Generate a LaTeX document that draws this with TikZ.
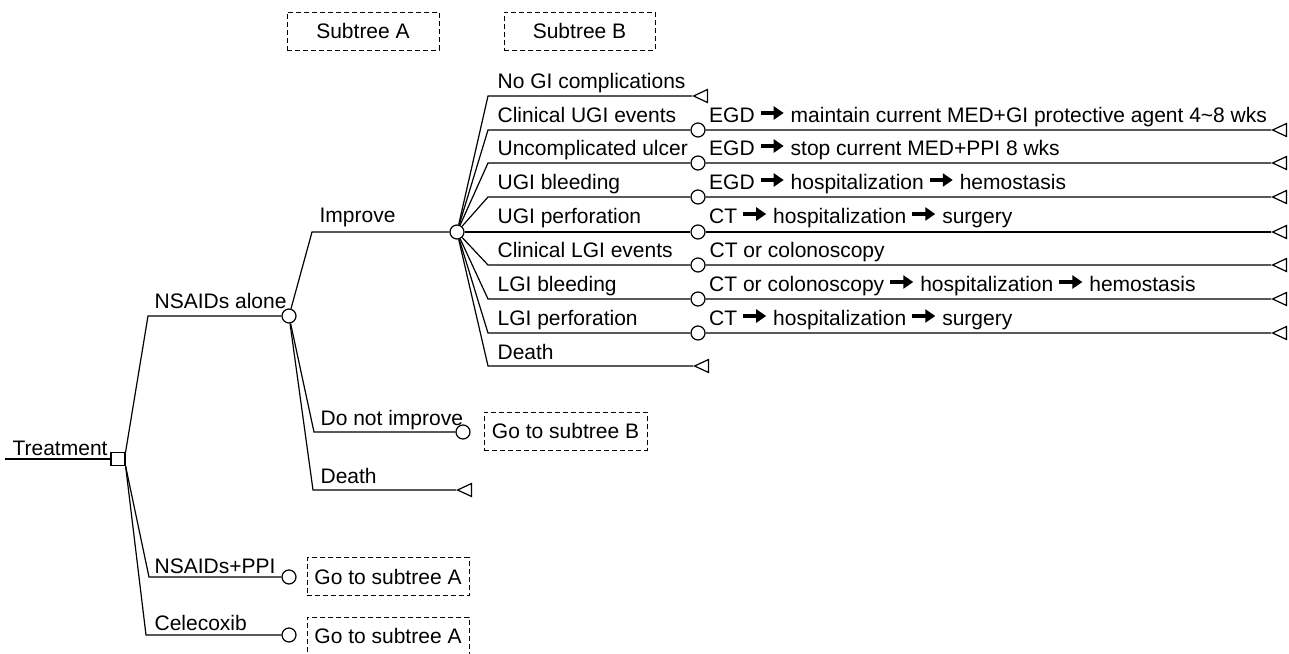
\documentclass[tikz,border=0pt]{standalone}
\usepackage{fontspec}
\setmainfont{Liberation Sans}
\usetikzlibrary{shapes.geometric,arrows.meta}
\newcommand{\myarr}{\hspace{4pt}\tikz[baseline=0pt]\draw[line width=4pt,-{Triangle[length=10pt,width=13pt]}] (0pt,9pt) -- (23pt,9pt);\hspace{5pt}}
\begin{document}
\begin{tikzpicture}[x=1pt,y=-1pt,line width=1.2pt,
  every node/.style={font=\fontsize{21}{24}\selectfont, inner sep=0pt},
  chance/.style={circle, draw, fill=white, minimum size=14pt, inner sep=0pt},
  decision/.style={rectangle, draw, fill=white, minimum width=14pt, minimum height=13pt},
  term/.style={isosceles triangle, isosceles triangle stretches, shape border rotate=180, draw, fill=white, minimum width=13pt, minimum height=14pt, inner sep=0pt, anchor=apex},
  lbl/.style={anchor=base west},
  refbox/.style={draw, dash pattern=on 5pt off 3pt, line width=1pt, minimum height=38pt, anchor=center}]
\useasboundingbox (0,0) rectangle (1289,653);
\clip (0,0) rectangle (1289,653);

% header boxes
\node[refbox, minimum width=152pt] (subA) at (363,31) {Subtree A};
\node[refbox, minimum width=151pt] (subB) at (579.5,31) {Subtree B};

% root
\coordinate (r0) at (5,459);
\node[decision] (dec) at (118,459) {};
\node[lbl] (tTreat) at (12,455) {Treatment};
\draw (r0) -- (dec);

% level 1
\coordinate (kna) at (148,316);
\coordinate (kpp) at (149,577);
\coordinate (kce) at (146,635);
\node[chance] (na) at (289,316) {};
\node[chance] (pp) at (289,577) {};
\node[chance] (ce) at (289,635) {};
\node[lbl] (lna) at (154,308) {NSAIDs alone};
\node[lbl] (lpp) at (154,573) {NSAIDs+PPI};
\node[lbl] (lce) at (154,630) {Celecoxib};
\draw (dec.north east) -- (kna) -- (na);
\draw (dec.south east) -- (kpp) -- (pp);
\draw (dec.south east) -- (kce) -- (ce);
\node[refbox, minimum width=162pt] (gA1) at (388,576.5) {Go to subtree A};
\node[refbox, minimum width=162pt] (gA2) at (388,636) {Go to subtree A};

% level 2
\coordinate (kim) at (312,232);
\coordinate (kdn) at (314,432);
\coordinate (kde) at (313,490);
\node[chance] (im) at (457,232) {};
\node[chance] (dn) at (463,432) {};
\node[term] (de) at (456,490) {};
\node[lbl] (lim) at (319,222) {Improve};
\node[lbl] (ldn) at (320,425) {Do not improve};
\node[lbl] (lde) at (320,483) {Death};
\draw (na) -- (kim) -- (im);
\draw (na) -- (kdn) -- (dn);
\draw (na) -- (kde) -- (de);
\node[refbox, minimum width=163pt] (gB) at (565.5,431) {Go to subtree B};

% level 3
\coordinate (k1) at (488,96);
\coordinate (k2) at (488,130);
\coordinate (k3) at (488,163);
\coordinate (k4) at (488,197);
\coordinate (k5) at (488,232);
\coordinate (k6) at (488,265);
\coordinate (k7) at (488,299);
\coordinate (k8) at (488,333);
\coordinate (k9) at (488,366);
\node[term] (e1) at (692,96) {};
\node[chance] (o2) at (698,130) {};
\node[chance] (o3) at (698,163) {};
\node[chance] (o4) at (698,197) {};
\node[chance] (o5) at (698,232) {};
\node[chance] (o6) at (698,265) {};
\node[chance] (o7) at (698,299) {};
\node[chance] (o8) at (698,333) {};
\node[term] (e9) at (693,366) {};
\node[term] (f2) at (1271,130) {};
\node[term] (f3) at (1271,163) {};
\node[term] (f4) at (1271,197) {};
\node[term] (f5) at (1271,232) {};
\node[term] (f6) at (1271,265) {};
\node[term] (f7) at (1271,299) {};
\node[term] (f8) at (1271,333) {};

\node[lbl] (l1) at (497,88) {No GI complications};
\node[lbl] (l2) at (497,122) {Clinical UGI events};
\node[lbl] (l3) at (497,155) {Uncomplicated ulcer};
\node[lbl] (l4) at (497,189) {UGI bleeding};
\node[lbl] (l5) at (497,223) {UGI perforation};
\node[lbl] (l6) at (497,257) {Clinical LGI events};
\node[lbl] (l7) at (497,291) {LGI bleeding};
\node[lbl] (l8) at (497,325) {LGI perforation};
\node[lbl] (l9) at (497,359) {Death};

\node[lbl] (m2) at (709,122) {EGD\myarr maintain current MED+GI protective agent 4\textasciitilde 8 wks};
\node[lbl] (m3) at (709,155) {EGD\myarr stop current MED+PPI 8 wks};
\node[lbl] (m4) at (709,189) {EGD\myarr hospitalization\myarr hemostasis};
\node[lbl] (m5) at (709,223) {CT\myarr hospitalization\myarr surgery};
\node[lbl] (m6) at (709,257) {CT or colonoscopy};
\node[lbl] (m7) at (709,291) {CT or colonoscopy\myarr hospitalization\myarr hemostasis};
\node[lbl] (m8) at (709,325) {CT\myarr hospitalization\myarr surgery};

\draw (im) -- (k1) -- (e1);
\draw (im) -- (k2) -- (o2) -- (f2);
\draw (im) -- (k3) -- (o3) -- (f3);
\draw (im) -- (k4) -- (o4) -- (f4);
\draw (im) -- (k5) -- (o5) -- (f5);
\draw (im) -- (k6) -- (o6) -- (f6);
\draw (im) -- (k7) -- (o7) -- (f7);
\draw (im) -- (k8) -- (o8) -- (f8);
\draw (im) -- (k9) -- (e9);
\end{tikzpicture}
\end{document}
